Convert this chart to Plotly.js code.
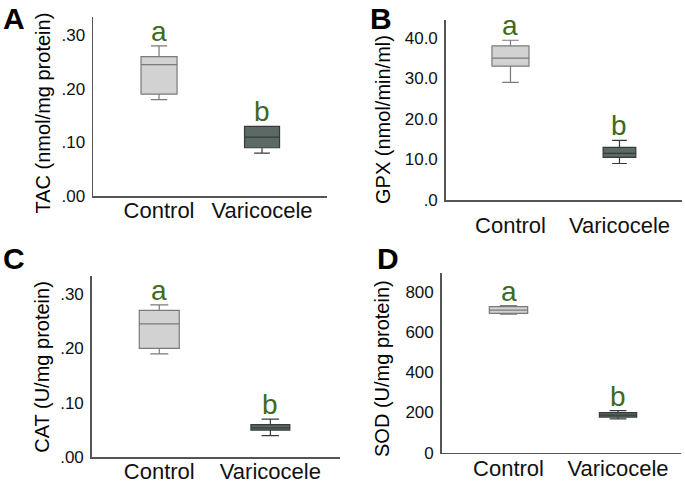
<!DOCTYPE html>
<html>
<head>
<meta charset="utf-8">
<script src="https://cdn.plot.ly/plotly-3.0.1.min.js"></script>
<style>
  html, body { margin: 0; padding: 0; background: #fff; }
  #chart { width: 685px; height: 483px; }
</style>
</head>
<body>
<div id="chart"></div>
<script>
// groups
const groups = ['Control', 'Varicocele'];
const sigLetters = ['a', 'b'];

// A: TAC
const tacLower = [0.18, 0.08];
const tacQ1 = [0.19, 0.09];
const tacMedian = [0.245, 0.11];
const tacQ3 = [0.26, 0.13];
const tacUpper = [0.28, 0.13];

// B: GPX
const gpxLower = [29.0, 9.0];
const gpxQ1 = [33.0, 10.5];
const gpxMedian = [35.0, 11.5];
const gpxQ3 = [38.0, 13.0];
const gpxUpper = [39.4, 14.7];

// C: CAT
const catLower = [0.19, 0.04];
const catQ1 = [0.20, 0.05];
const catMedian = [0.245, 0.054];
const catQ3 = [0.27, 0.06];
const catUpper = [0.28, 0.07];

// D: SOD
const sodLower = [688, 168];
const sodQ1 = [692, 177];
const sodMedian = [708, 187];
const sodQ3 = [725, 199];
const sodUpper = [730, 209];

// tick labels
const tacTicks = [0, 0.1, 0.2, 0.3];
const tacTickText = ['.00', '.10', '.20', '.30'];
const gpxTicks = [0, 10, 20, 30, 40];
const gpxTickText = ['.0', '10.0', '20.0', '30.0', '40.0'];
const catTicks = [0, 0.1, 0.2, 0.3];
const catTickText = ['.00', '.10', '.20', '.30'];
const sodTicks = [0, 200, 400, 600, 800];
const sodTickText = ['0', '200', '400', '600', '800'];

const fillColors = ['#d2d2d2', '#5d6964'];
const lineColors = ['#7a7a7a', '#353c38'];
const font = '"Liberation Sans", Arial, sans-serif';

function boxTraces(lower, q1, med, q3, upper, xa, ya, widths) {
    return groups.map((g, i) => ({
        type: 'box',
        x: [g],
        lowerfence: [lower[i]],
        q1: [q1[i]],
        median: [med[i]],
        q3: [q3[i]],
        upperfence: [upper[i]],
        width: widths[i],
        whiskerwidth: 0.45,
        fillcolor: fillColors[i],
        line: { color: lineColors[i], width: 1.2 },
        boxpoints: false,
        hoverinfo: 'skip',
        showlegend: false,
        xaxis: xa,
        yaxis: ya
    }));
}

const data = [].concat(
    boxTraces(tacLower, tacQ1, tacMedian, tacQ3, tacUpper, 'x', 'y', [0.35, 0.34]),
    boxTraces(gpxLower, gpxQ1, gpxMedian, gpxQ3, gpxUpper, 'x2', 'y2', [0.34, 0.30]),
    boxTraces(catLower, catQ1, catMedian, catQ3, catUpper, 'x3', 'y3', [0.36, 0.35]),
    boxTraces(sodLower, sodQ1, sodMedian, sodQ3, sodUpper, 'x4', 'y4', [0.35, 0.34])
);

function xAxis(domain, range, anchor, standoff) {
    return {
        domain: domain, range: range, anchor: anchor,
        type: 'category',
        showline: true, linecolor: '#555', linewidth: 1.5,
        showgrid: false, zeroline: false, ticks: '',
        ticklabelstandoff: standoff,
        tickfont: { family: font, size: 22, color: '#111' },
        fixedrange: true
    };
}
function yAxis(domain, range, anchor, vals, text) {
    return {
        domain: domain, range: range, anchor: anchor,
        showline: true, linecolor: '#555', linewidth: 1.5,
        showgrid: false, zeroline: false,
        ticks: 'outside', ticklen: 3, tickcolor: '#fff',
        tickvals: vals, ticktext: text,
        tickfont: { family: font, size: 17, color: '#111' },
        fixedrange: true
    };
}

// significance letters above each box
function letters(upper, xa, ya) {
    return groups.map((g, i) => ({
        x: g, y: upper[i], xref: xa, yref: ya,
        text: sigLetters[i], showarrow: false,
        yanchor: 'bottom', yshift: -3,
        font: { family: font, size: 28, color: '#3f6b1e' }
    }));
}

function axisTitle(text, x, y) {
    return {
        x: x, y: y, xref: 'paper', yref: 'paper',
        text: text, showarrow: false, textangle: -90,
        xanchor: 'center', yanchor: 'middle',
        font: { family: font, size: 20, color: '#000' }
    };
}

function panelLabel(text, x, y) {
    return {
        x: x, y: y, xref: 'paper', yref: 'paper',
        text: '<b>' + text + '</b>', showarrow: false,
        xanchor: 'left', yanchor: 'top',
        font: { family: font, size: 30, color: '#000' }
    };
}

const layout = {
    width: 685, height: 483,
    margin: { l: 0, r: 0, t: 0, b: 0 },
    paper_bgcolor: '#fff', plot_bgcolor: '#fff',
    boxmode: 'overlay',
    showlegend: false,
    xaxis: xAxis([0.1358, 0.4774], [-0.641, 1.631], 'y', -6),
    yaxis: yAxis([0.5942, 0.9648], [0, 0.334], 'x', tacTicks, tacTickText),
    xaxis2: xAxis([0.6507, 0.9952], [-0.594, 1.571], 'y2', 5),
    yaxis2: yAxis([0.5859, 0.9586], [0, 44.4], 'x2', gpxTicks, gpxTickText),
    xaxis3: xAxis([0.1339, 0.4964], [-0.608, 1.627], 'y3', -6),
    yaxis3: yAxis([0.0532, 0.4286], [0, 0.333], 'x3', catTicks, catTickText),
    xaxis4: xAxis([0.6448, 0.9942], [-0.61, 1.575], 'y4', -5),
    yaxis4: yAxis([0.0627, 0.4342], [0, 891], 'x4', sodTicks, sodTickText),
    annotations: [].concat(
        letters(tacUpper, 'x', 'y'),
        letters(gpxUpper, 'x2', 'y2'),
        letters(catUpper, 'x3', 'y3'),
        letters(sodUpper, 'x4', 'y4'),
        [
            axisTitle('TAC (nmol/mg protein)', 43 / 685, 0.765),
            axisTitle('GPX (nmol/min/ml)', 383 / 685, 0.7516),
            axisTitle('CAT (U/mg protein)', 42 / 685, 0.2408),
            axisTitle('SOD (U/mg protein)', 382 / 685, 0.236),
            panelLabel('A', 0.002, 1.0),
            panelLabel('B', 368 / 685, 1.0),
            panelLabel('C', 0.002, 1 - 240 / 483),
            panelLabel('D', 375 / 685, 1 - 240 / 483)
        ]
    )
};

Plotly.newPlot('chart', data, layout, { displayModeBar: false, staticPlot: true });
</script>
</body>
</html>
